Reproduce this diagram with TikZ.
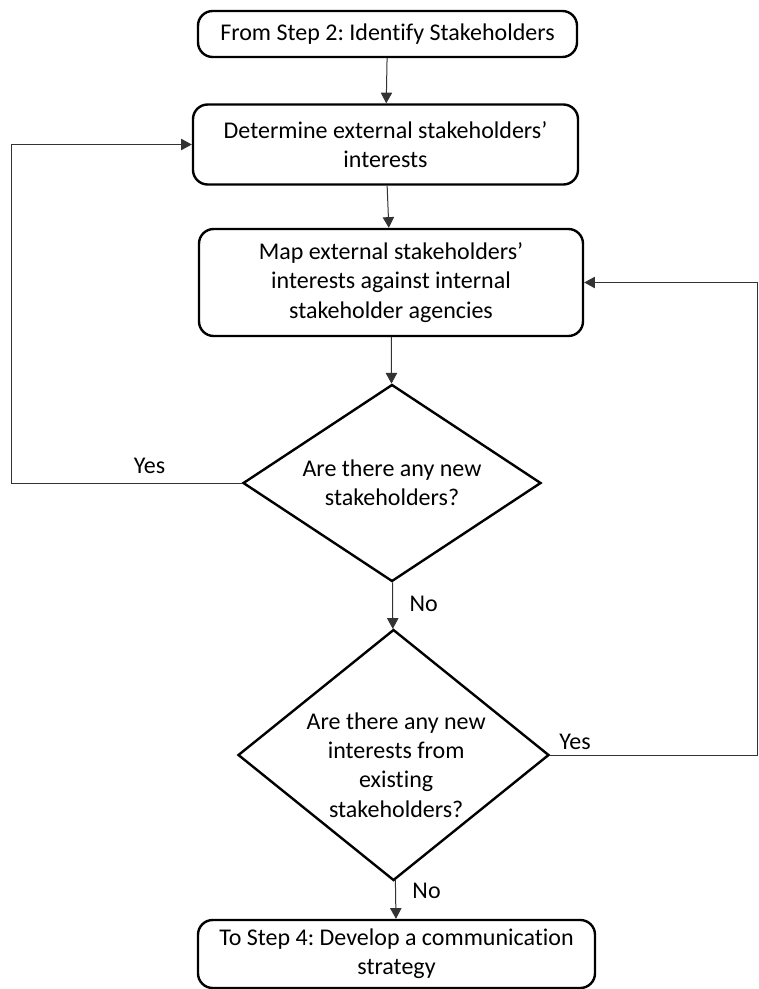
\documentclass[tikz,border=0pt]{standalone}
\usepackage{fontspec}
\setmainfont{Carlito}[Ligatures={NoCommon}]
\frenchspacing
\usetikzlibrary{shapes.geometric,arrows.meta}
\tikzset{
box/.style = {rectangle,rounded corners=11pt,draw=black,line width=1.8pt,inner sep=0pt,align=center},
decision/.style = {diamond,draw=black,line width=1.8pt,inner sep=0pt},
line/.style = {line width=0.75pt,draw=black!80}
}

\begin{document}
\begin{tikzpicture}[x=0.75pt,y=-0.75pt,font=\fontsize{18}{22}\selectfont,>={Triangle[length=8pt,width=8.5pt]}]
\useasboundingbox (0,0) rectangle (758,989);
\node[box,minimum width=284.25pt,minimum height=34.5pt] (FS) at(387.5,34) {From Step 2: Identify Stakeholders};
\node[box,minimum width=288.75pt,minimum height=60pt] (DI) at(385.5,144.5) {Determine external stakeholders'\\interests};
\node[box,minimum width=288pt,minimum height=80.25pt] (MI) at(391,282.5) {Map external stakeholders'\\interests against internal\\stakeholder agencies};
\node[decision,minimum width=223.5pt,minimum height=147.75pt,label={[align=center]center:Are there any new\\stakeholders?}] (NS) at(392,483) {};
\node[decision,minimum width=233.25pt,minimum height=188.25pt,label={[align=center,xshift=2pt,yshift=-7.5pt]center:Are there any new\\interests from\\existing\\stakeholders?}] (NI) at(393.5,755) {};
\node[box,minimum width=297.75pt,minimum height=51pt] (TS) at(396.5,954) {To Step 4: Develop a communication\\strategy};
\coordinate (LC) at(11,483);
\coordinate (RC) at(757.5,755);
\draw[line,->] (FS) -- (DI);
\draw[line,->] (DI) -- (MI);
\draw[line,->] (MI) -- (NS);
\draw[line,->] (NS) -- node[pos=0.47,right=9pt]{No}(NI);
\draw[line,->] (NI) -- node[pos=0.28,right=9pt]{No}(TS);
\draw[line,->] (NS.west) -- node[pos=0.4,above=3pt]{Yes}(LC) |- (DI.west);
\draw[line,->] (NI.east) -- node[pos=0.12,above]{Yes}(RC) |- (MI.east);
\end{tikzpicture}
\end{document}
